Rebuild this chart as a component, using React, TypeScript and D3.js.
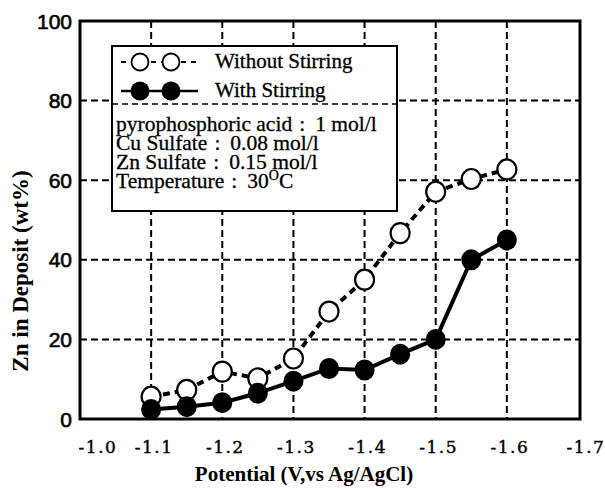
import React from "react";
import * as d3 from "d3";

// potentials (V vs Ag/AgCl)
const potentials = [-1.1, -1.15, -1.2, -1.25, -1.3, -1.35, -1.4, -1.45, -1.5, -1.55, -1.6];
// Zn content in deposit (wt%)
const withoutStirring = [5.6, 7.3, 11.9, 10.2, 15.2, 27, 35, 46.7, 57.1, 60.3, 62.7];
const withStirring = [2.4, 3.1, 4.1, 6.5, 9.5, 12.7, 12.3, 16.3, 20.0, 40, 45];

const xTicks = [-1.0, -1.1, -1.2, -1.3, -1.4, -1.5, -1.6, -1.7];
const xGrid = [-1.1, -1.2, -1.3, -1.4, -1.5, -1.6];
const yTicks = [0, 20, 40, 60, 80, 100];
const yGrid = [20, 40, 60, 80];

const conditions = [
  { label: "pyrophosphoric acid", value: "1 mol/l" },
  { label: "Cu Sulfate", value: "0.08 mol/l" },
  { label: "Zn Sulfate", value: "0.15 mol/l" },
  { label: "Temperature", value: "30" },
];

const width = 605;
const height = 489;
const MARGIN = { top: 21, right: 27, bottom: 70, left: 80 };

const App = () => {
  const x = d3
    .scaleLinear()
    .domain([-1.0, -1.7])
    .range([MARGIN.left, width - MARGIN.right]);
  const y = d3
    .scaleLinear()
    .domain([0, 100])
    .range([height - MARGIN.bottom, MARGIN.top]);

  const line = d3
    .line<number>()
    .x((d, i) => x(potentials[i]))
    .y((d) => y(d));

  const serif = "'Liberation Serif', 'Times New Roman', serif";
  const frameRight = x(-1.7) + 2;

  const legendX = 112;
  const legendY = 46;
  const legendW = 285;
  const legendH = 165;

  return (
    <svg
      width={width}
      height={height}
      style={{ position: "absolute", left: 0, top: 0, background: "#fff" }}
    >
      <rect width={width} height={height} fill="#fff" />
      {/* grid */}
      <g stroke="#000" strokeWidth={2} strokeDasharray="7,4">
        {xGrid.map((v) => (
          <line key={"gx" + v} x1={x(v)} x2={x(v)} y1={y(100)} y2={y(0)} />
        ))}
        {yGrid.map((v) => (
          <line key={"gy" + v} x1={x(-1.0)} x2={frameRight} y1={y(v)} y2={y(v)} />
        ))}
      </g>

      {/* legend box */}
      <g>
        <rect
          x={legendX}
          y={legendY}
          width={legendW}
          height={legendH}
          fill="#fff"
          stroke="#000"
          strokeWidth={2}
        />
        <line
          x1={legendX}
          x2={legendX + legendW}
          y1={104}
          y2={104}
          stroke="#000"
          strokeWidth={1.5}
          strokeDasharray="6,4"
        />
        <line x1={121} x2={198} y1={62} y2={62} stroke="#000" strokeWidth={2} strokeDasharray="5,5" />
        <circle cx={140} cy={62} r={8.5} fill="#fff" stroke="#000" strokeWidth={1.8} />
        <circle cx={171} cy={62} r={8.5} fill="#fff" stroke="#000" strokeWidth={1.8} />
        <line x1={121} x2={198} y1={91} y2={91} stroke="#000" strokeWidth={2.5} />
        <circle cx={140} cy={91} r={9.5} fill="#000" />
        <circle cx={171} cy={91} r={9.5} fill="#000" />
        <g fontFamily={serif} fontSize={21} stroke="#000" strokeWidth={0.3}>
          <text x={215} y={68}>Without Stirring</text>
          <text x={215} y={97}>With Stirring</text>
          {conditions.map((c, i) => (
            <text key={c.label} x={116} y={131 + i * 19} fontSize={21.5}>
              {c.label}
              <tspan dx={7}>:</tspan>
              <tspan dx={10}>{c.value}</tspan>
              {i === 3 && (
                <>
                  <tspan fontSize={14} dy={-8}>O</tspan>
                  <tspan dy={8}>C</tspan>
                </>
              )}
            </text>
          ))}
        </g>
      </g>

      {/* series: without stirring */}
      <path
        d={line(withoutStirring) || ""}
        fill="none"
        stroke="#000"
        strokeWidth={4}
        strokeDasharray="7,5"
      />
      {withoutStirring.map((v, i) => (
        <ellipse
          key={"o" + i}
          cx={x(potentials[i])}
          cy={y(v)}
          rx={9.5}
          ry={10}
          fill="#fff"
          stroke="#000"
          strokeWidth={2.2}
        />
      ))}

      {/* series: with stirring */}
      <path d={line(withStirring) || ""} fill="none" stroke="#000" strokeWidth={4} />
      {withStirring.map((v, i) => (
        <ellipse key={"f" + i} cx={x(potentials[i])} cy={y(v)} rx={10} ry={10.5} fill="#000" />
      ))}

      {/* frame */}
      <rect
        x={x(-1.0)}
        y={y(100)}
        width={frameRight - x(-1.0)}
        height={y(0) - y(100)}
        fill="none"
        stroke="#000"
        strokeWidth={3}
      />

      {/* y tick labels */}
      {yTicks.map((v) => (
        <text
          key={"yt" + v}
          x={x(-1.0) - 8}
          y={y(v) + 7.5}
          textAnchor="end"
          fontFamily="'Liberation Sans', Arial, sans-serif"
          fontSize={21}
          stroke="#000"
          strokeWidth={0.6}
        >
          {v}
        </text>
      ))}

      {/* x tick labels */}
      {xTicks.map((v, i) => (
        <text
          key={"xt" + v}
          x={x(v) + (i === 0 ? 18 : i === xTicks.length - 1 ? 8 : 3)}
          y={453}
          textAnchor="middle"
          fontFamily="'DejaVu Serif', serif"
          fontSize={17}
          letterSpacing={1.5}
          stroke="#000"
          strokeWidth={0.4}
        >
          {v.toFixed(1)}
        </text>
      ))}

      {/* axis titles */}
      <text
        x={304}
        y={481}
        textAnchor="middle"
        fontFamily={serif}
        fontWeight="bold"
        fontSize={21}
      >
        Potential (V,vs Ag/AgCl)
      </text>
      <text
        transform={`translate(28, 271) rotate(-90)`}
        textAnchor="middle"
        fontFamily={serif}
        fontWeight="bold"
        fontSize={23}
      >
        Zn in Deposit (wt%)
      </text>
    </svg>
  );
};

export default App;
